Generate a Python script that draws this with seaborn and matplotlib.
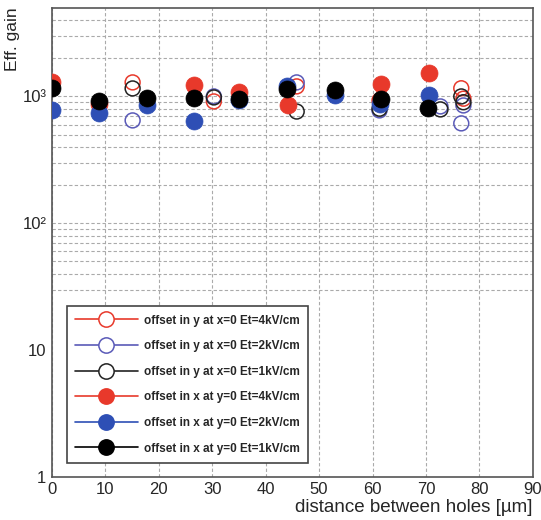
import matplotlib
matplotlib.use("Agg")
import matplotlib.pyplot as plt
import matplotlib.ticker as mticker
from matplotlib.lines import Line2D
import seaborn as sns
import pandas as pd

# ---- data ----
labels = [
    "offset in y at x=0 Et=4kV/cm",
    "offset in y at x=0 Et=2kV/cm",
    "offset in y at x=0 Et=1kV/cm",
    "offset in x at y=0 Et=4kV/cm",
    "offset in x at y=0 Et=2kV/cm",
    "offset in x at y=0 Et=1kV/cm",
]
colors = ["#e8392b", "#5a5ab8", "#222222", "#e8392b", "#2e4fb5", "#000000"]
filled = [False, False, False, True, True, True]

y_open_4kv_x = [15.1, 30.3, 45.8, 61.3, 76.6, 77.0]
y_open_4kv_g = [1290, 913, 1200, 930, 1160, 960]
y_open_2kv_x = [15.1, 30.3, 45.8, 61.3, 72.7, 76.6, 77.0]
y_open_2kv_g = [647, 1000, 1290, 776, 834, 613, 849]
y_open_1kv_x = [15.1, 30.3, 45.8, 61.3, 72.7, 76.6, 77.0]
y_open_1kv_g = [1156, 982, 760, 800, 790, 1000, 900]
x_fill_4kv_x = [0, 8.8, 26.6, 35.0, 44.2, 61.6, 70.5]
x_fill_4kv_g = [1290, 870, 1221, 1075, 849, 1243, 1530]
x_fill_2kv_x = [0, 8.8, 17.7, 26.6, 35.0, 43.9, 52.9, 61.3, 70.5]
x_fill_2kv_g = [776, 735, 849, 636, 930, 1199, 1018, 865, 1018]
x_fill_1kv_x = [0, 8.8, 17.7, 26.6, 35.0, 43.9, 52.9, 61.6, 70.3]
x_fill_1kv_g = [1156, 913, 964, 964, 947, 1135, 1115, 947, 804]

series_x = [y_open_4kv_x, y_open_2kv_x, y_open_1kv_x, x_fill_4kv_x, x_fill_2kv_x, x_fill_1kv_x]
series_g = [y_open_4kv_g, y_open_2kv_g, y_open_1kv_g, x_fill_4kv_g, x_fill_2kv_g, x_fill_1kv_g]

ytick_vals = [1, 10, 100, 1000]
ytick_labels = ["1", "10", "10²", "10³"]
xtick_vals = [0, 10, 20, 30, 40, 50, 60, 70, 80, 90]

# ---- style ----
sns.set_style("white")
plt.rcParams["font.family"] = ["Liberation Sans", "DejaVu Sans"]

fig = plt.figure(figsize=(5.41, 5.20), dpi=100)
ax = fig.add_axes([0.096, 0.083, 0.889, 0.902])

for xs, gs, c, f in zip(series_x, series_g, colors, filled):
    df = pd.DataFrame({"x": xs, "g": gs})
    if f:
        sns.scatterplot(data=df, x="x", y="g", ax=ax, color=c, s=150,
                        edgecolor=c, linewidth=0.5, zorder=3)
    else:
        sns.scatterplot(data=df, x="x", y="g", ax=ax, s=115, marker="o",
                        facecolors="none", edgecolor=c, linewidth=1.1, zorder=3)

ax.set_yscale("log")
ax.set_xlim(0, 90)
ax.set_ylim(1, 5000)

ax.set_xticks(xtick_vals)
ax.xaxis.set_minor_locator(mticker.MultipleLocator(2))
ax.set_yticks(ytick_vals)
ax.set_yticklabels(ytick_labels)
ax.yaxis.set_minor_locator(mticker.LogLocator(base=10, subs=range(2, 10)))
ax.yaxis.set_minor_formatter(mticker.NullFormatter())

ax.tick_params(axis="both", which="major", direction="in", length=10, width=1,
               color="#555555", labelsize=12, pad=4)
ax.tick_params(axis="both", which="minor", direction="in", length=5, width=0.8,
               color="#555555")

# vertical grid on major x ticks
ax.grid(True, which="major", axis="x", linestyle=(0, (3, 2)), color="#aaaaaa", linewidth=0.8)
# horizontal grid: only from 30 upward, as in the reference
ax.figure.canvas.draw()
ylo, yhi = ax.get_ylim()
ygrid = [v for v in list(ax.yaxis.get_majorticklocs()) + list(ax.yaxis.get_minorticklocs())
         if 30 <= v < yhi]
for v in ygrid:
    ax.axhline(v, linestyle=(0, (3, 2)), color="#aaaaaa", linewidth=0.8, zorder=0.5)
ax.set_axisbelow(True)

for sp in ax.spines.values():
    sp.set_color("#555555")
    sp.set_linewidth(1.2)

ax.set_xlabel("distance between holes [µm]", loc="right", fontsize=13.5, labelpad=1)
ax.set_ylabel("Eff. gain", loc="top", fontsize=12.5, labelpad=2)

handles = []
for c, f in zip(colors, filled):
    handles.append(Line2D([0], [0], color=c, linewidth=1.2, marker="o", markersize=11,
                          markerfacecolor=c if f else "white", markeredgecolor=c,
                          markeredgewidth=1.1))
leg = ax.legend(handles, labels, loc="lower left", bbox_to_anchor=(0.031, 0.030),
                borderaxespad=0, frameon=True, fancybox=False, shadow=False,
                prop={"weight": "bold", "size": 8.5}, handlelength=5.3,
                labelspacing=1.15, borderpad=0.7, handletextpad=0.5, framealpha=1)
leg.get_frame().set_edgecolor("#444444")
leg.get_frame().set_linewidth(1.2)

fig.savefig("out.png", dpi=100)
